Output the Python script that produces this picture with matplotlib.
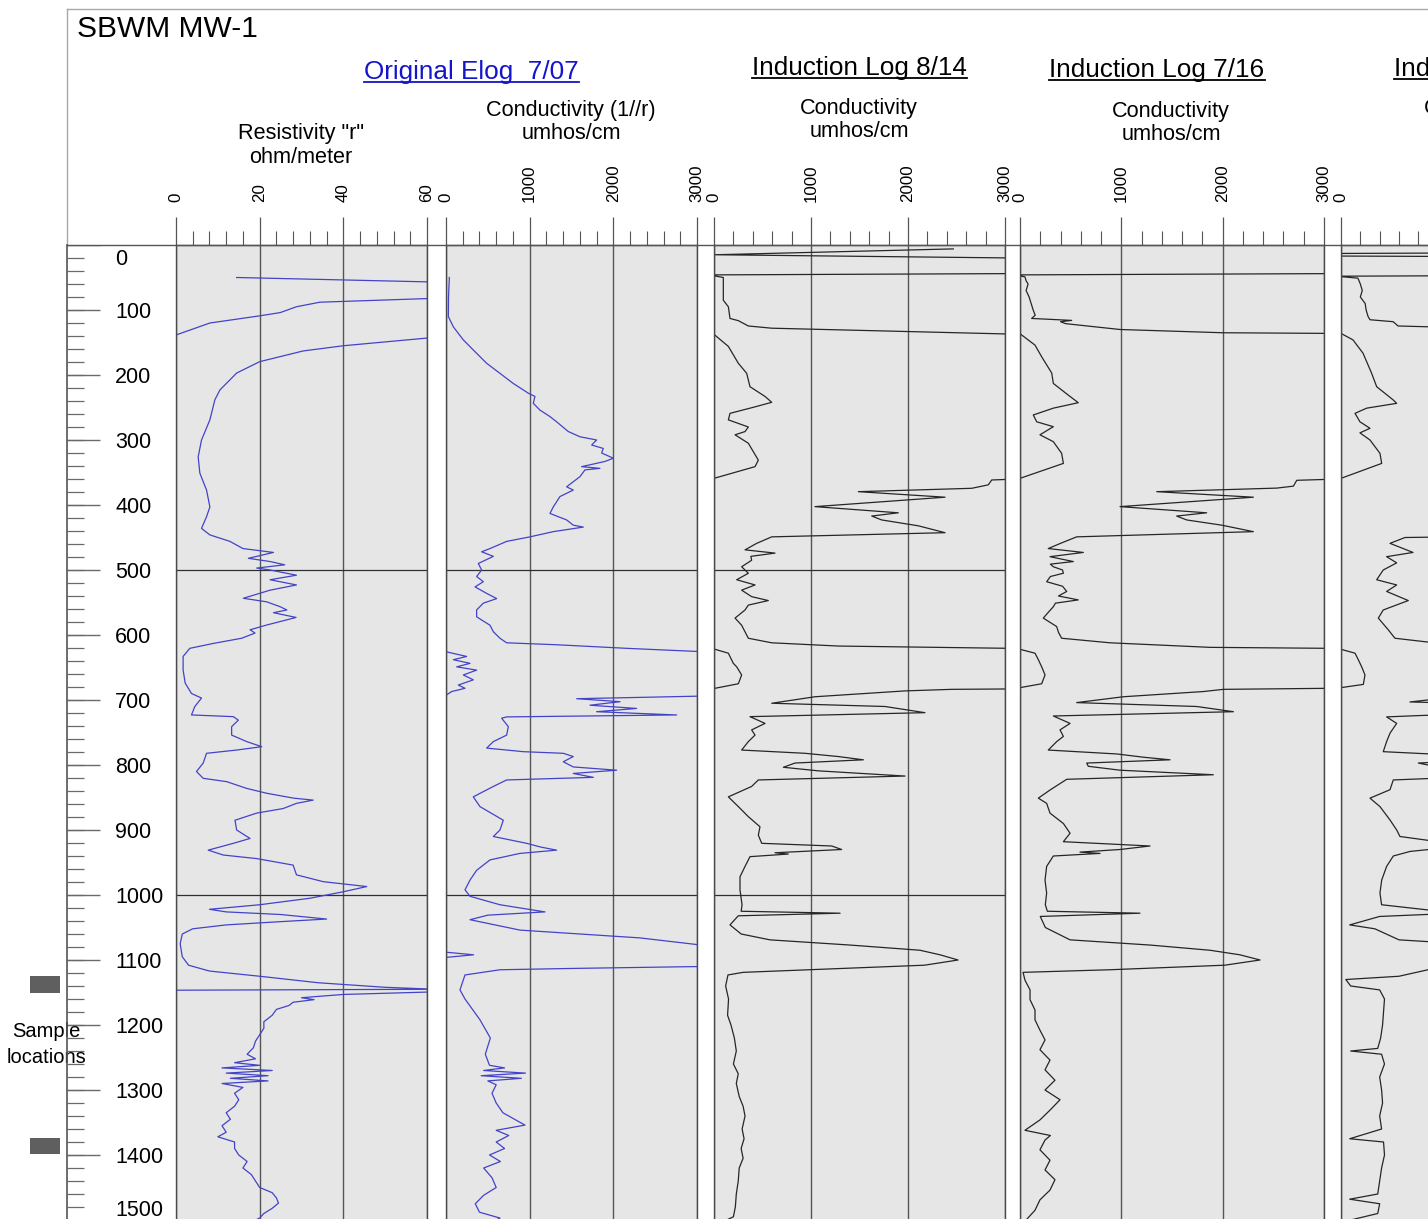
"""Borehole log panel for SBWM MW-1: resistivity, e-log conductivity and
repeated induction conductivity logs against depth (ft)."""

import matplotlib

matplotlib.use("Agg")
import matplotlib.pyplot as plt
import numpy as np
from matplotlib.lines import Line2D

plt.rcParams["font.family"] = ["Liberation Sans", "DejaVu Sans"]

W, H = 1428, 1219
TOP, BOTTOM = 245, 1220  # pixel rows of depth 0 and depth 1500
nan = np.nan

# ---- log data: (depth ft, reading); nan breaks the trace where it leaves the scale
res_log = [
    (50, 14.5), (57, 62), (58, nan), (82, 62), (88, 34.4), (95, 28.8), (104, 24.9),
    (109, 20), (120, 8.1), (138, 0.2), (140, -2), (141, nan), (142, 62), (155, 40),
    (163, 30.4), (179.5, 20), (197, 14.5), (223, 10.5), (238, 9.3), (269, 8.1),
    (300, 6.1), (326, 5.3), (351, 5.7), (377, 7.3), (403, 8.1), (418, 7.3),
    (436, 6.1), (446, 8.1), (456, 12.9), (467, 16), (473, 23.3), (482, 17.3),
    (487, 22.5), (492, 26), (497, 19.3), (500, 22.5), (508, 28.8), (515, 22.5),
    (523, 28.8), (531, 22.5), (543.5, 16.1), (549, 21.7), (556.5, 24.9), (561.5, 26.5),
    (565.7, 23.3), (573, 28.7), (584.6, 21.7), (592, 17.7), (597, 18.9), (605, 15.7),
    (613, 8.9), (620.5, 3.3), (633, 1.7), (654, 1.7), (674, 2.2), (690, 3.7),
    (697, 6.1), (710, 4.5), (723, 3.7), (725.6, 13.7), (731, 14.9), (741, 13.3),
    (754, 13.3), (764, 16.9), (771.8, 20.5), (777, 14.5), (782, 7.3), (797, 6.5),
    (810, 4.9), (820.5, 6.5), (825.6, 12.1), (836, 16.9), (843.5, 21.7), (851, 28.1),
    (854, 32.8), (859, 28.8), (867, 25.6), (874, 19.3), (885, 14.1), (900, 14.5),
    (913, 17.7), (920.5, 13.7), (931, 7.7), (938.5, 11.3), (944, 19.3), (954, 28),
    (969, 28.8), (979.5, 35.2), (987, 45.6), (995, 40), (1005, 32), (1015, 20),
    (1022, 8), (1026, 12), (1030, 25), (1037, 36), (1041, 25), (1046, 12),
    (1052, 4), (1060, 1.5), (1075, 1.0), (1095, 1.5), (1108, 3), (1117, 8),
    (1125, 20), (1135, 34), (1142, 50), (1145, 62), (1146.5, -1), (1147, nan),
    (1149, 62), (1153, 40), (1158, 30), (1161, 33), (1165, 28), (1170, 27),
    (1176, 24), (1185, 23), (1195, 21), (1205, 21), (1215, 20), (1225, 19),
    (1235, 18.5), (1245, 17), (1252, 19), (1258, 14), (1262, 20), (1266, 11),
    (1270, 23), (1274, 12), (1278, 22), (1282, 13), (1286, 22), (1290, 11),
    (1296, 16), (1305, 14), (1315, 15), (1325, 14), (1335, 12), (1345, 13),
    (1355, 11), (1365, 12), (1372, 10), (1380, 14), (1390, 14), (1400, 15),
    (1410, 17), (1420, 16), (1430, 18), (1440, 19), (1450, 20), (1458, 23),
    (1466, 24), (1474, 24.5), (1482, 23), (1490, 21), (1497, 20), (1500, 19),
]

elog_log = [
    (50, 40), (80, 30), (110, 28), (126, 88), (146, 207), (161.5, 326), (182, 486),
    (197.4, 645), (213, 804), (228, 984), (233, 1063), (243.5, 1043), (254, 1123),
    (264, 1243), (272, 1322), (287, 1462), (295, 1601), (300, 1800), (307.7, 1741),
    (313, 1880), (320, 1860), (328, 2000), (333, 1900), (341, 1621), (343.6, 1840),
    (346, 1661), (356.4, 1601), (372, 1442), (377, 1521), (387, 1362), (403, 1282),
    (413, 1243), (423, 1442), (431, 1521), (434, 1641), (441, 1282), (449, 1004),
    (456, 725), (467, 526), (472, 426), (479, 566), (490, 386), (500, 426),
    (510, 366), (518, 446), (526, 347), (536, 486), (544, 606), (551, 446),
    (561.5, 366), (572, 366), (585, 526), (595, 566), (605, 645), (612, 725),
    (615, 1322), (620.5, 2159), (625.6, 3050), (625.8, nan), (626, 8), (633, 247),
    (638, 88), (643.6, 287), (649, 128), (654, 366), (661.5, 207), (669, 326),
    (677, 147), (682, 227), (687, 68), (692, 8), (693, nan), (694, 3050),
    (698, 1562), (702.6, 2080), (708, 1721), (713, 2278), (718, 1800), (723, 2757),
    (726, 725), (728, 665), (741, 745), (754, 725), (764, 566), (774, 486),
    (779.5, 924), (782, 1402), (787, 1521), (795, 1402), (803, 1521), (808, 2040),
    (813, 1521), (819, 1761), (823, 725), (833, 566), (849, 326), (864, 406),
    (885, 685), (900, 645), (910, 566), (920.5, 964), (926, 1123), (931, 1322),
    (936, 884), (946, 526), (962, 366), (977, 287), (992, 227), (1002, 287),
    (1015, 645), (1026, 1183), (1031, 500), (1038, 287), (1054, 884), (1066, 2318),
    (1077, 3050), (1080, nan), (1088, 0), (1092, 330), (1096, 0), (1100, nan),
    (1110, 3050), (1113, 1500), (1115, 645), (1123, 227), (1146, 167), (1160, 227),
    (1192, 406), (1220, 530), (1245, 470), (1262, 520), (1266, 700), (1270, 450),
    (1274, 950), (1278, 420), (1282, 900), (1286, 500), (1292, 600), (1305, 550),
    (1320, 600), (1335, 680), (1354, 944), (1362, 600), (1370, 750), (1380, 600),
    (1390, 700), (1400, 520), (1410, 650), (1420, 450), (1435, 550), (1450, 600),
    (1462, 450), (1475, 350), (1488, 400), (1497, 645), (1500, 600),
]

ind_0814_log = [
    (6, 2467), (15, 10), (20, 3100), (21, nan), (44, 3100), (46, -50), (50, 96),
    (70, 96), (85, 96), (95, 148), (113, 165), (116.4, 251), (124.6, 354), (128, 595),
    (133, 1969), (137, 3050), (137.2, nan), (137.5, 0), (156, 148), (182, 251),
    (197.4, 337), (218, 371), (233, 526), (242, 595), (249, 423), (259, 165),
    (269, 148), (280, 354), (287, 320), (292, 217), (305, 354), (331, 457),
    (341, 423), (359, 0), (359.5, nan), (360.5, 3050), (361.5, 2863), (369, 2828),
    (374.3, 2657), (379.5, 1488), (388, 2382), (402.5, 1041), (412, 1900),
    (417, 1626), (423, 1729), (432, 2106), (442.6, 2382), (449, 595), (459, 440),
    (469, 320), (474, 629), (479, 380), (485, 388), (495, 285), (505, 354),
    (515, 234), (523, 423), (531, 285), (541, 388), (547, 560), (554, 354),
    (561.5, 320), (574, 217), (585, 285), (595, 320), (605, 354), (612, 595),
    (617, 1282), (620.5, 3050), (621, nan), (622, 10), (628, 148), (643.6, 199),
    (649, 234), (661.5, 285), (675, 251), (682, 10), (682.5, nan), (683, 3050),
    (683.6, 2450), (686, 1969), (695, 1041), (705, 595), (710, 1763), (719.5, 2175),
    (725.6, 371), (736, 526), (746, 388), (754, 423), (764, 354), (777, 285),
    (782, 938), (787, 1282), (792, 1540), (797, 835), (803.5, 715), (809, 1076),
    (817, 1969), (823, 457), (833, 388), (849, 148), (864, 251), (879.5, 354),
    (895, 474), (908, 457), (920.5, 492), (924.6, 1213), (930, 1316), (935, 629),
    (937, 766), (941, 371), (956, 320), (972, 268), (992, 268), (1015, 289),
    (1025, 280), (1028, 1300), (1032, 250), (1046, 165), (1060, 280), (1069, 577),
    (1077, 1402), (1085, 2124), (1092, 2330), (1100, 2516), (1108, 2170),
    (1115, 990), (1119, 300), (1123, 144), (1140, 120), (1160, 150), (1185, 140),
    (1200, 175), (1220, 210), (1240, 230), (1260, 200), (1275, 250), (1290, 230),
    (1310, 260), (1325, 300), (1340, 320), (1360, 290), (1375, 310), (1390, 280),
    (1405, 300), (1420, 260), (1440, 250), (1460, 230), (1480, 220), (1495, 200),
    (1500, 130),
]

ind_0716_log = [
    (44, 3100), (46, -50), (49, 49), (55, 60), (60, 80), (70, 60), (80, 90),
    (90, 110), (100, 130), (108, 150), (113, 115), (116, 510), (118, 400),
    (121, 450), (130, 987), (135, 2000), (136, 3050), (136.2, nan), (136.5, 0),
    (154, 148), (172, 214), (197, 313), (213, 329), (231, 477), (242.6, 575),
    (251, 329), (261.5, 131), (272, 165), (279.5, 329), (292, 197), (302.6, 329),
    (320.5, 411), (336, 428), (359, 0), (359.5, nan), (360.5, 3050), (362, 2731),
    (371, 2698), (374, 2534), (379.5, 1349), (388, 2303), (402.5, 987), (412, 1842),
    (417, 1546), (423, 1645), (431, 1990), (441, 2303), (449, 559), (459, 400),
    (467, 279), (473, 625), (479.5, 296), (487, 526), (491, 300), (495, 329),
    (500, 420), (505, 428), (510, 300), (518, 263), (525, 420), (533, 461),
    (540, 380), (546, 575), (551, 350), (556.5, 329), (565, 280), (574, 230),
    (587, 362), (596, 380), (605, 411), (612, 888), (619, 1875), (620.5, 3050),
    (621, nan), (622, 0), (628, 148), (638, 181), (649, 214), (661.5, 247),
    (675, 214), (681, 0), (681.5, nan), (682, 3050), (683.6, 2007), (687, 1809),
    (695, 1020), (704, 559), (710, 1744), (718, 2106), (724.6, 329), (736, 494),
    (746, 395), (756, 428), (764, 362), (777, 279), (783, 954), (788, 1217),
    (792, 1481), (797, 658), (802, 674), (808, 987), (815, 1908), (822, 461),
    (838.5, 296), (851, 181), (859, 263), (874, 296), (890, 428), (905, 494),
    (918, 428), (924.6, 1283), (930, 987), (934, 592), (936, 790), (940, 329),
    (956, 263), (977, 247), (997, 263), (1015, 250), (1025, 270), (1028, 1184),
    (1033, 200), (1050, 250), (1069, 494), (1077, 1283), (1085, 1875), (1092, 2170),
    (1100, 2369), (1108, 2020), (1115, 888), (1119, 30), (1131, 49), (1146, 99),
    (1161, 99), (1177, 148), (1192, 148), (1208, 197), (1223, 247), (1238, 197),
    (1254, 296), (1269, 247), (1285, 345), (1300, 247), (1315, 395), (1331, 296),
    (1346, 197), (1362, 49), (1370, 300), (1377, 247), (1392, 197), (1408, 296),
    (1423, 247), (1438, 345), (1454, 296), (1469, 197), (1485, 148), (1500, 60),
]

ind_next_log = [
    (11, 3500), (13, -20), (17, -20), (19, 3500), (20, nan), (46, 3500), (48, -50),
    (51, 175), (60, 200), (70, 220), (80, 200), (90, 250), (100, 260), (110, 280),
    (115, 300), (118, 540), (124.6, 590), (127, 1200), (128, nan), (136, 0),
    (146, 124), (166.5, 228), (197.4, 317), (218, 369), (238.5, 541), (243.6, 576),
    (251, 266), (259, 145), (272, 196), (282, 300), (289, 196), (300, 300),
    (320.5, 403), (336, 421), (359, 0), (359.5, nan), (360.5, 3050), (380, 1500),
    (400, 1000), (420, 1700), (440, 2300), (449, 1200), (450, 662), (459, 507),
    (473, 745), (479.5, 472), (489, 576), (500, 437), (515, 369), (523, 576),
    (533, 472), (547, 696), (561.5, 437), (574, 386), (592, 489), (605, 558),
    (611, 900), (620.5, 3050), (621, nan), (622, 0), (628, 145), (638, 179),
    (649, 214), (661.5, 248), (676, 231), (681, 0), (681.5, nan), (682, 3050),
    (695, 1200), (703, 713), (706, 1500), (718, 2000), (724, 800), (726, 472),
    (736, 576), (751, 507), (764, 472), (779.5, 437), (785, 1200), (792, 1500),
    (797, 800), (803, 1000), (815, 1900), (823, 541), (838, 507), (851, 300),
    (864, 403), (884.6, 507), (900, 576), (910, 610), (924, 1300), (933, 713),
    (940, 541), (956, 472), (977, 421), (997, 403), (1015, 420), (1028, 1200),
    (1033, 400), (1046, 90), (1052, 350), (1069, 600), (1080, 1800), (1100, 2400),
    (1115, 900), (1125, 600), (1130, 50), (1140, 100), (1146, 400), (1160, 450),
    (1180, 440), (1200, 430), (1220, 410), (1236, 380), (1240, 100), (1245, 420),
    (1260, 450), (1280, 400), (1300, 420), (1320, 430), (1340, 400), (1360, 420),
    (1375, 90), (1380, 440), (1400, 450), (1420, 420), (1440, 400), (1460, 380),
    (1468, 90), (1475, 400), (1490, 380), (1500, 100),
]

sample_intervals = [(1125, 1150), (1374, 1399)]
depth_major = list(range(0, 1501, 100))
res_ticks = [0, 20, 40, 60]
cond_ticks = [0, 1000, 2000, 3000]

BLUE = "#4343c9"
INK = "#262626"
GRID = "#555555"
FILL = "#e6e6e6"


def fx(x):
    return x / W


def fy(y):
    return 1 - y / H


# track: pixel extent, scale, ticks, labelled ticks, minor step, curve, colour, depth lines
tracks = [
    (176, 427, 60, res_ticks, res_ticks, 4, res_log, BLUE, True),
    (446, 697, 3000, cond_ticks, cond_ticks, 200, elog_log, BLUE, True),
    (714, 1005, 3000, cond_ticks, cond_ticks, 200, ind_0814_log, INK, True),
    (1020, 1324, 3000, cond_ticks, cond_ticks, 200, ind_0716_log, INK, False),
    (1341, 1631, 3000, cond_ticks, cond_ticks[:1], 200, ind_next_log, INK, False),
]

fig = plt.figure(figsize=(W / 100, H / 100), dpi=100)
ax_h = fy(BOTTOM)
ax_height = (BOTTOM - TOP) / H

for left, right, xmax, ticks, shown, minor, log, color, ref_lines in tracks:
    ax = fig.add_axes([fx(left), ax_h, (right - left) / W, ax_height])
    ax.set_facecolor(FILL)
    ax.set_xlim(0, xmax)
    ax.set_ylim(1500, 0)
    ax.set_xticks(ticks, [str(t) if t in shown else "" for t in ticks])
    ax.set_xticks(np.arange(0, xmax + 1e-9, minor), minor=True)
    ax.xaxis.tick_top()
    ax.tick_params(axis="x", which="major", length=20, width=0.9, color=GRID,
                   labelsize=12.2, labelrotation=90, pad=11)
    ax.tick_params(axis="x", which="minor", length=10, width=0.8, color=GRID)
    ax.set_yticks([])
    ax.grid(axis="x", which="major", color=GRID, linewidth=1.0)
    for spine in ax.spines.values():
        spine.set_color("#4a4a4a")
        spine.set_linewidth(1.0)
    if ref_lines:
        for d in (500, 1000):
            ax.axhline(d, color="#303030", linewidth=0.9)
    depth, value = np.array(log, dtype=float).T
    ax.plot(value, depth, color=color, linewidth=0.9)

# depth scale and sample markers
ax_d = fig.add_axes([0, ax_h, fx(176), ax_height])
ax_d.set_xlim(0, 176)
ax_d.set_ylim(1500, 0)
ax_d.axis("off")
ax_d.hlines(depth_major, 67, 100, color="#6a6a6a", linewidth=1.0)
ax_d.hlines(np.arange(20, 1500, 20), 67, 84, color="#6a6a6a", linewidth=0.9)
for d in depth_major:
    ax_d.text(115, np.clip(d, 19, 1482), str(d), fontsize=15.5,
              ha="left", va="center_baseline")
for top, base in sample_intervals:
    ax_d.barh((top + base) / 2, 30, left=30, height=base - top, color="#5f5f5f")
ax_d.text(46, 1218, "Sample", fontsize=14.5, ha="center", va="baseline")
ax_d.text(46.5, 1258, "locations", fontsize=14.5, ha="center", va="baseline")

# frame around the header and the depth column
fig.add_artist(Line2D([fx(67), 1], [fy(9), fy(9)], color="#a8a8a8", linewidth=1))
fig.add_artist(Line2D([fx(67), fx(67)], [fy(9), fy(TOP)], color="#a8a8a8", linewidth=1))
fig.add_artist(Line2D([fx(67), fx(67)], [fy(TOP), 0], color="#555555", linewidth=1.2))
fig.add_artist(Line2D([fx(67), 1], [fy(TOP), fy(TOP)], color="#555555", linewidth=1))

fig.text(fx(77), fy(37), "SBWM MW-1", fontsize=21.5, ha="left", va="baseline")

headers = [
    ("Original Elog  7/07", 471.5, 79, "center", "#1414cc", 82),
    ("Induction Log 8/14", 859.5, 75, "center", "black", 78),
    ("Induction Log 7/16", 1157, 77, "center", "black", 80),
    ("Induction Log", 1394, 76, "left", "black", 79),
]
units = [
    (301, 139, 163, 'Resistivity "r"', "ohm/meter"),
    (571, 116, 139, "Conductivity (1//r)", "umhos/cm"),
    (859, 114, 137, "Conductivity", "umhos/cm"),
    (1171, 117, 140, "Conductivity", "umhos/cm"),
    (1483, 114, 137, "Conductivity", "umhos/cm"),
]

header_texts = []
for label, x, base, ha, color, uline in headers:
    t = fig.text(fx(x), fy(base), label, fontsize=18.8, ha=ha, va="baseline", color=color)
    header_texts.append((t, color, uline))
for x, b1, b2, line1, line2 in units:
    fig.text(fx(x), fy(b1), line1, fontsize=15.6, ha="center", va="baseline")
    fig.text(fx(x), fy(b2), line2, fontsize=15.6, ha="center", va="baseline")

# underline the log titles using their rendered extents
fig.canvas.draw()
renderer = fig.canvas.get_renderer()
for t, color, uline in header_texts:
    bb = t.get_window_extent(renderer)
    fig.add_artist(Line2D([bb.x0 / W, bb.x1 / W], [fy(uline), fy(uline)],
                          color=color, linewidth=1.3))

fig.savefig("out.png", dpi=100, facecolor="white")
